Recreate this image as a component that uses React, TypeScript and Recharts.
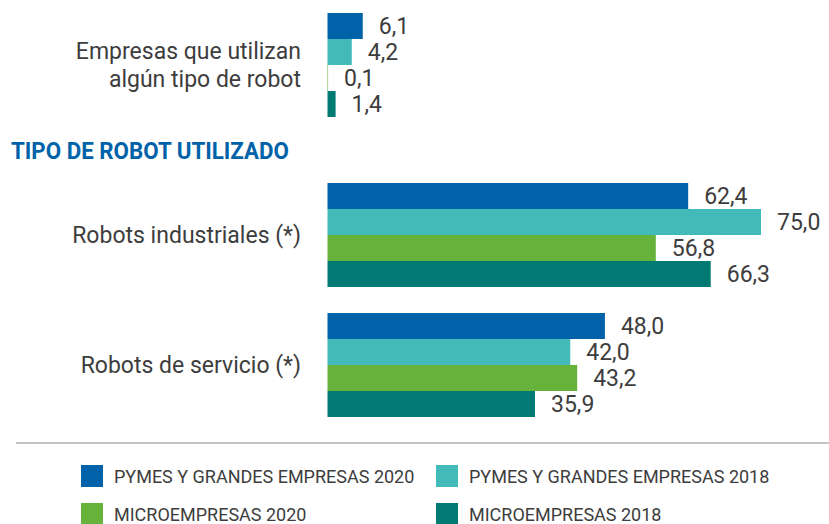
import React from 'react';
import { BarChart, Bar, XAxis, YAxis, LabelList } from 'recharts';

const seriesNames = [
  'PYMES Y GRANDES EMPRESAS 2020',
  'PYMES Y GRANDES EMPRESAS 2018',
  'MICROEMPRESAS 2020',
  'MICROEMPRESAS 2018',
];
const seriesKeys = ['pg2020', 'pg2018', 'mi2020', 'mi2018'];
const seriesColors = ['#0062A8', '#41BAB8', '#66B23A', '#007A72'];

const usageCategories = ['Empresas que utilizan\nalgún tipo de robot'];
const usagePg2020 = [6.1];
const usagePg2018 = [4.2];
const usageMi2020 = [0.1];
const usageMi2018 = [1.4];

const typeCategories = ['Robots industriales (*)', 'Robots de servicio (*)'];
const typePg2020 = [62.4, 48.0];
const typePg2018 = [75.0, 42.0];
const typeMi2020 = [56.8, 43.2];
const typeMi2018 = [66.3, 35.9];

const sectionTitle = 'TIPO DE ROBOT UTILIZADO';

const buildRows = (cats: string[], cols: number[][]) =>
  cats.map((name, i) => {
    const row: any = { name };
    seriesKeys.forEach((k, j) => (row[k] = cols[j][i]));
    return row;
  });

const usageData = buildRows(usageCategories, [usagePg2020, usagePg2018, usageMi2020, usageMi2018]);
const typeData = buildRows(typeCategories, [typePg2020, typePg2018, typeMi2020, typeMi2018]);

const FONT = 'Roboto, "DejaVu Sans", sans-serif';
const TEXT = '#3d3d3d';

const fmt = (v: any) => Number(v).toFixed(1).replace('.', ',');

const CategoryTick = (props: any) => {
  const { y, payload } = props;
  const lines = String(payload.value).split('\n');
  const lh = 28;
  const start = y - ((lines.length - 1) * lh) / 2;
  return (
    <text x={301} y={start} textAnchor="end" fill={TEXT} fontSize={23} fontFamily={FONT} dominantBaseline="central">
      {lines.map((l, i) => (
        <tspan key={i} x={301} dy={i === 0 ? 0 : lh}>
          {l}
        </tspan>
      ))}
    </text>
  );
};

const Series = () =>
  seriesKeys.map((k, i) => (
    <Bar key={k} dataKey={k} name={seriesNames[i]} fill={seriesColors[i]} isAnimationActive={false}>
      <LabelList
        dataKey={k}
        position="right"
        offset={16}
        formatter={fmt}
        fill={TEXT}
        fontSize={23}
        fontFamily={FONT}
      />
    </Bar>
  ));

const Legend = () => (
  <>
    {seriesNames.map((n, i) => {
      const left = i % 2 === 0 ? 81 : 436;
      const top = i < 2 ? 465 : 503;
      return (
        <div key={n} style={{ position: 'absolute', left, top, display: 'flex', alignItems: 'center', height: 22 }}>
          <div style={{ width: 22, height: 22, background: seriesColors[i] }} />
          <span style={{ marginLeft: 11, fontFamily: FONT, fontSize: 18, color: TEXT, whiteSpace: 'nowrap' }}>
            {n}
          </span>
        </div>
      );
    })}
  </>
);

export default function App() {
  return (
    <div style={{ position: 'absolute', left: 0, top: 0, width: 829, height: 524, background: '#fff', overflow: 'hidden' }}>
      <div style={{ position: 'absolute', left: 0, top: 0 }}>
        <BarChart
          layout="vertical"
          width={829}
          height={117}
          data={usageData}
          margin={{ top: 13, right: 68, bottom: 1, left: 0 }}
          barCategoryGap={0}
          barGap={0}
        >
          <XAxis type="number" domain={[0, 75]} hide />
          <YAxis type="category" dataKey="name" width={327.5} axisLine={false} tickLine={false} tick={<CategoryTick />} />
          {Series()}
        </BarChart>
      </div>

      <div
        style={{
          position: 'absolute',
          left: 11,
          top: 137,
          fontFamily: FONT,
          fontWeight: 700,
          fontSize: 24,
          lineHeight: '28px',
          color: '#0062A8',
          whiteSpace: 'nowrap',
          transform: 'scaleX(0.93)',
          transformOrigin: 'left center',
        }}
      >
        {sectionTitle}
      </div>

      <div style={{ position: 'absolute', left: 0, top: 0 }}>
        <BarChart
          layout="vertical"
          width={829}
          height={430}
          data={typeData}
          margin={{ top: 169.5, right: 68, bottom: 0.5, left: 0 }}
          barCategoryGap={13.5}
          barGap={0}
        >
          <XAxis type="number" domain={[0, 75]} hide />
          <YAxis type="category" dataKey="name" width={327.5} axisLine={false} tickLine={false} tick={<CategoryTick />} />
          {Series()}
        </BarChart>
      </div>

      <div style={{ position: 'absolute', left: 16, top: 442, width: 813, height: 2, background: '#c4c4c4' }} />
      <Legend />
    </div>
  );
}
